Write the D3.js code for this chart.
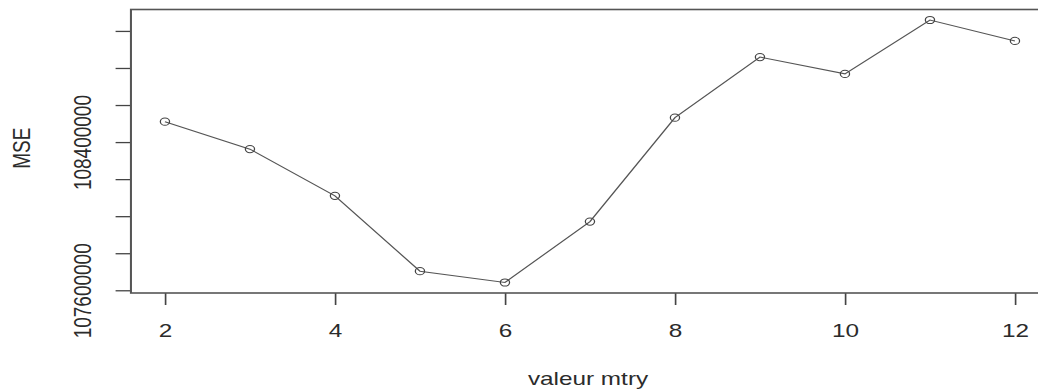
<!DOCTYPE html>
<html>
<head>
<meta charset="utf-8">
<script src="https://cdn.jsdelivr.net/npm/d3@7"></script>
<style>
  body { margin: 0; background: #fff; }
  text { font-family: "Liberation Sans", Arial, sans-serif; fill: #2b2b2b; }
</style>
</head>
<body>
<svg id="chart" width="1038" height="390"></svg>
<script>
// values
var mtry = [2, 3, 4, 5, 6, 7, 8, 9, 10, 11, 12];
var mse = [108510000, 108362000, 108110000, 107703000, 107642000, 107971000,
           108532000, 108859000, 108768000, 109059000, 108946000];
var xTicks = [2, 4, 6, 8, 10, 12];
var yTicks = [107600000, 107800000, 108000000, 108200000, 108400000, 108600000, 108800000, 109000000];
var yTickLabels = [107600000, 108400000];

// the original picture is stretched sideways, so draw in narrower units and scale
var stretch = 1.28;
var boxL = 102.3, boxR = 819.5, boxT = 9.5, boxB = 293;

// R style 4% padding around the data range
var pad = function(ext) { var d = (ext[1] - ext[0]) * 0.04; return [ext[0] - d, ext[1] + d]; };

var x = d3.scaleLinear().domain(pad(d3.extent(mtry))).range([boxL, boxR]);
var y = d3.scaleLinear().domain(pad(d3.extent(mse))).range([boxB, boxT]);

var svg = d3.select("#chart");
var g = svg.append("g").attr("transform", "scale(" + stretch + ",1)");

// x axis
var xa = g.append("g")
    .attr("transform", "translate(0," + boxB + ")")
    .call(d3.axisBottom(x).tickValues(xTicks).tickSize(12).tickSizeOuter(0));
xa.select(".domain").remove();
xa.selectAll(".tick line").attr("stroke", "#444").attr("stroke-width", 1.3);
xa.selectAll(".tick text").attr("font-size", 19).attr("dy", "0.71em").attr("y", 31);

// y axis, labels rotated like R's default
var ya = g.append("g")
    .attr("transform", "translate(" + boxL + ",0)")
    .call(d3.axisLeft(y).tickValues(yTicks).tickSize(12).tickSizeOuter(0)
      .tickFormat(function(d) { return yTickLabels.indexOf(d) >= 0 ? d : ""; }));
ya.select(".domain").remove();
ya.selectAll(".tick line").attr("stroke", "#444").attr("stroke-width", 1.3);
ya.selectAll(".tick text")
    .attr("font-size", 19)
    .attr("text-anchor", "middle")
    .attr("transform", "rotate(-90)")
    .attr("x", 0)
    .attr("y", -38)
    .attr("dy", "0.35em");

// plot box
g.append("rect")
    .attr("x", boxL)
    .attr("y", boxT)
    .attr("width", boxR - boxL)
    .attr("height", boxB - boxT)
    .attr("fill", "none")
    .attr("stroke", "#555")
    .attr("stroke-width", 1.6);

// line and circles
var line = d3.line()
    .x(function(d, i) { return x(mtry[i]); })
    .y(function(d) { return y(d); });

g.append("path")
    .datum(mse)
    .attr("d", line)
    .attr("fill", "none")
    .attr("stroke", "#555")
    .attr("stroke-width", 1.1);

g.selectAll("circle.pt")
    .data(mse)
  .enter().append("circle")
    .attr("class", "pt")
    .attr("cx", function(d, i) { return x(mtry[i]); })
    .attr("cy", function(d) { return y(d); })
    .attr("r", 3.6)
    .attr("fill", "none")
    .attr("stroke", "#444")
    .attr("stroke-width", 1);

// axis titles
g.append("text")
    .attr("x", (boxL + boxR) / 2 - 1.5)
    .attr("y", 385)
    .attr("text-anchor", "middle")
    .attr("font-size", 19)
    .text("valeur mtry");

g.append("text")
    .attr("transform", "translate(17," + ((boxT + boxB) / 2 - 3) + ") rotate(-90)")
    .attr("text-anchor", "middle")
    .attr("dy", "0.35em")
    .attr("font-size", 19)
    .text("MSE");
</script>
</body>
</html>
